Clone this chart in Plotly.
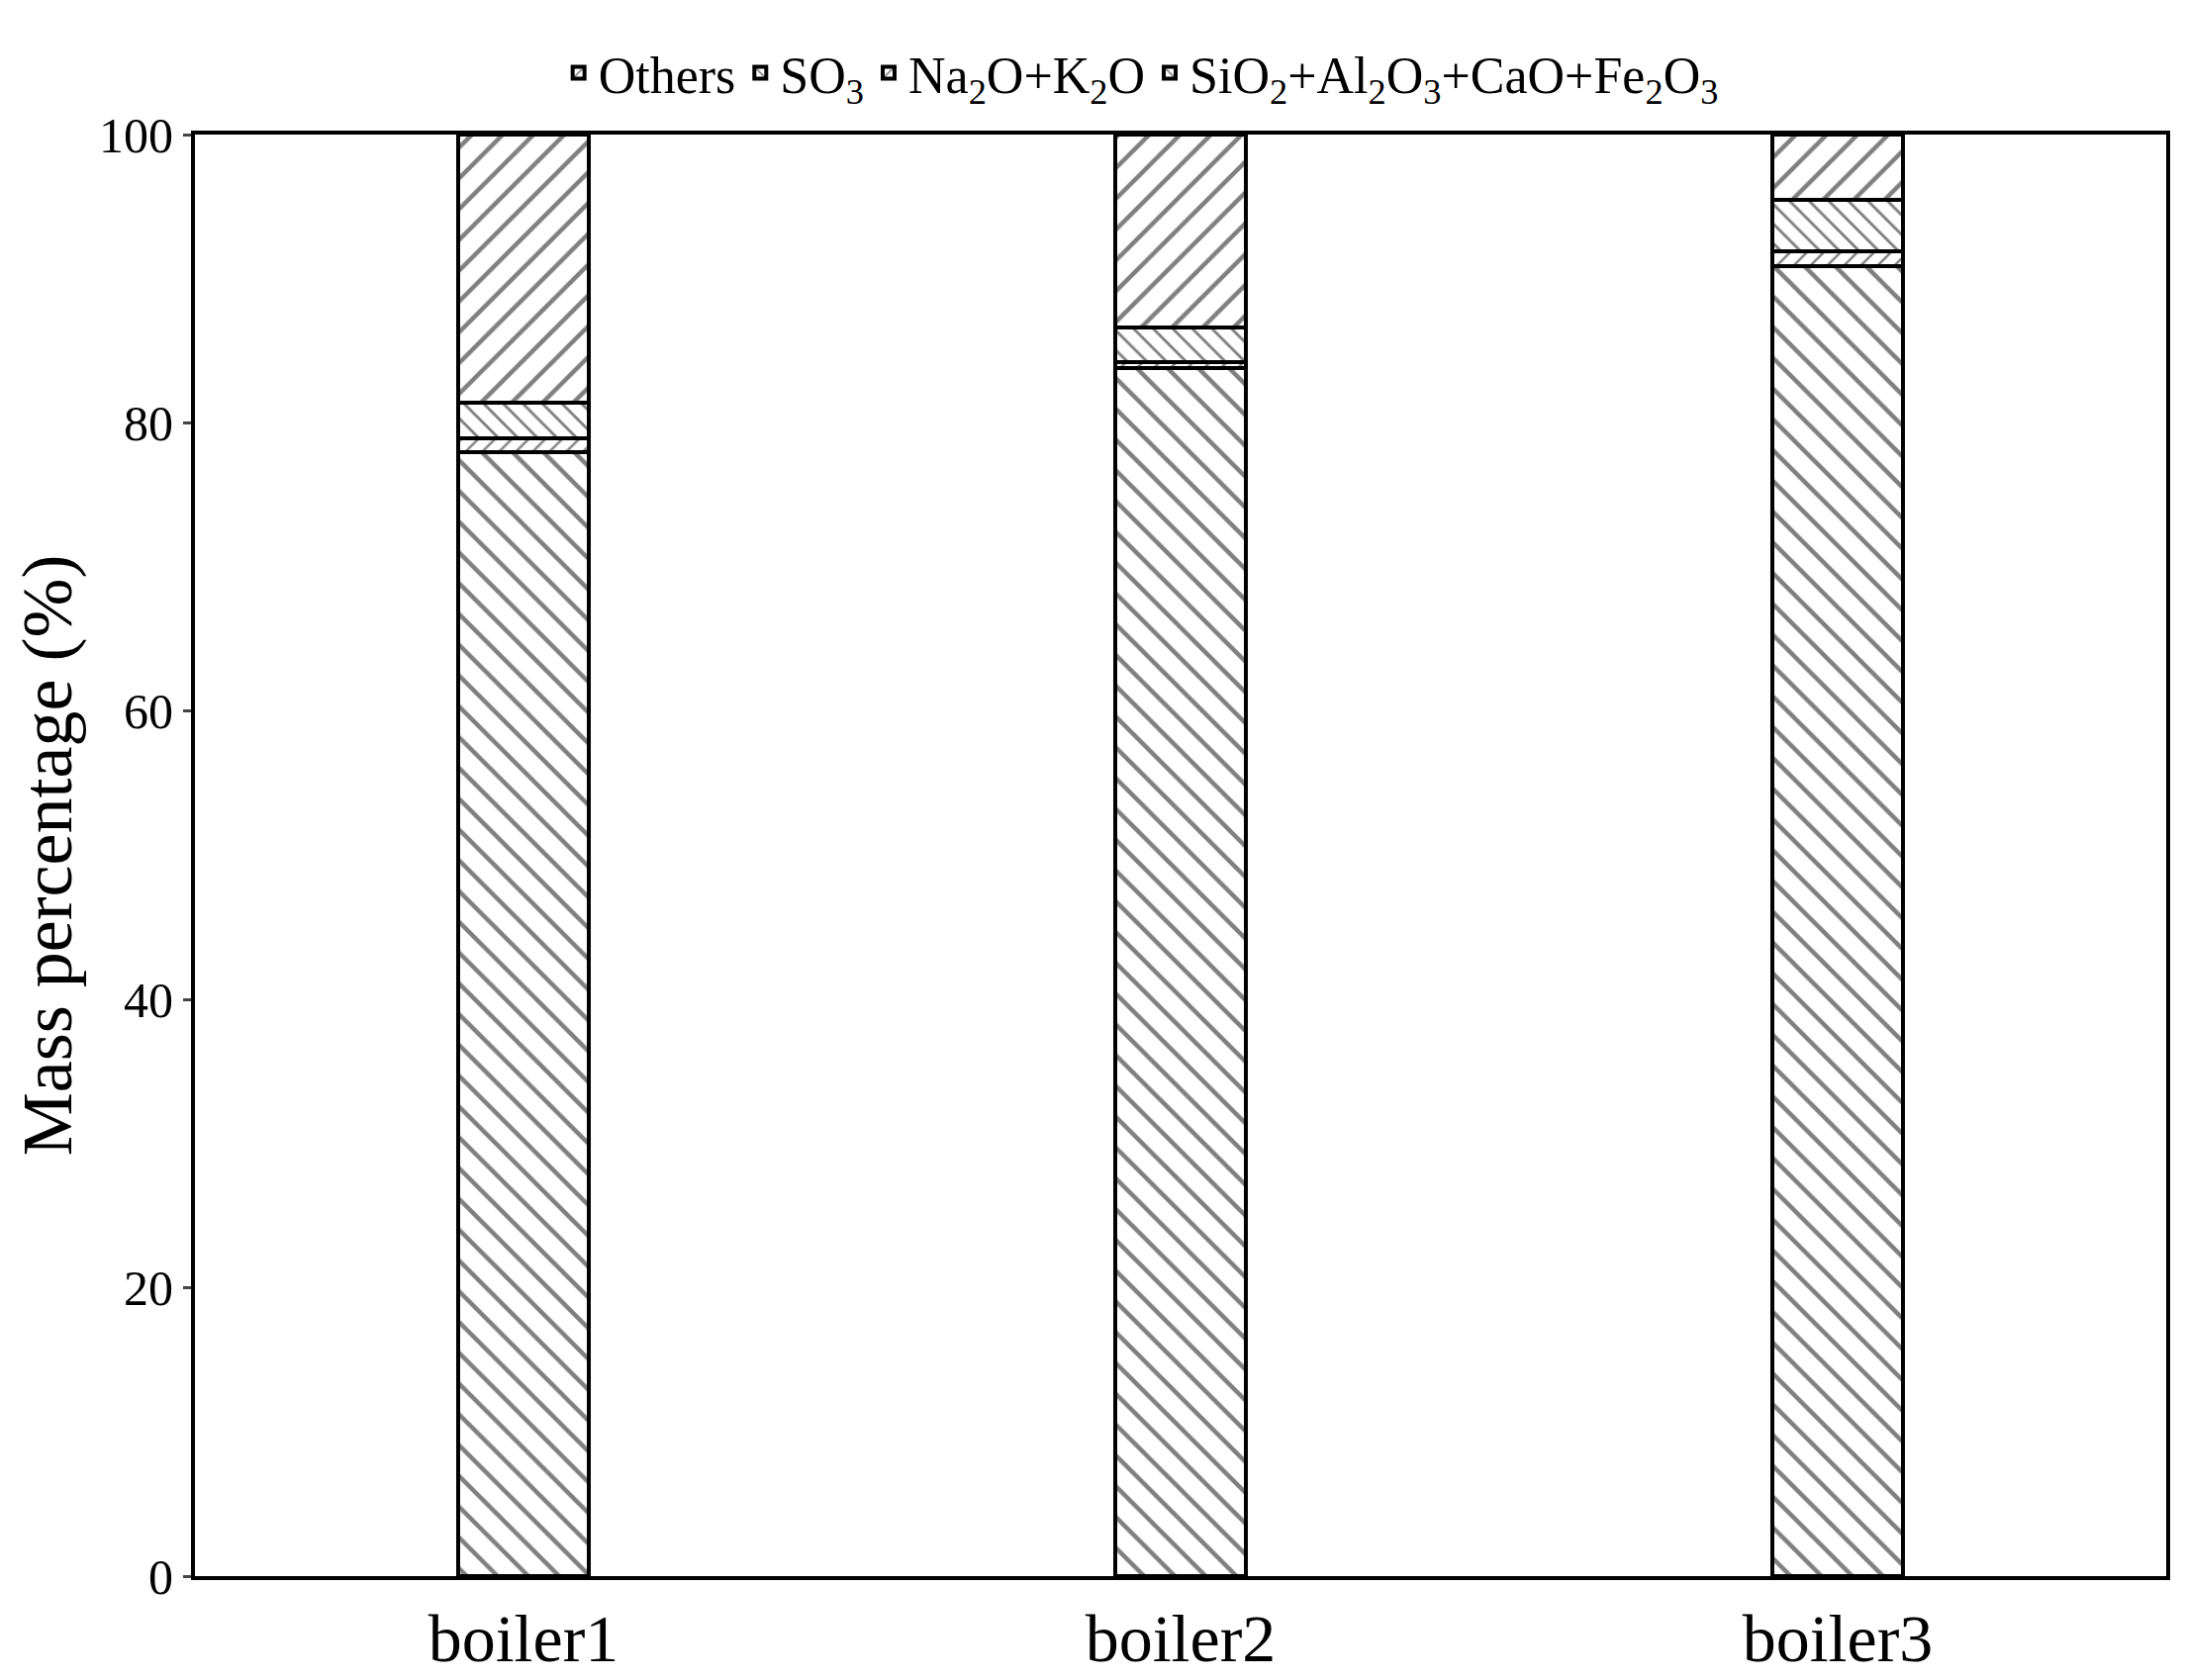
import plotly.graph_objects as go

categories = ["boiler1", "boiler2", "boiler3"]
si_al_ca_fe = [78.0, 83.8, 90.9]
na_k = [0.9, 0.4, 1.0]
so3 = [2.5, 2.4, 3.6]
others = [18.6, 13.4, 4.5]

series = [
    ("SiO<sub>2</sub>+Al<sub>2</sub>O<sub>3</sub>+CaO+Fe<sub>2</sub>O<sub>3</sub>", si_al_ca_fe, "\\", 22),
    ("Na<sub>2</sub>O+K<sub>2</sub>O", na_k, "/", 12),
    ("SO<sub>3</sub>", so3, "\\", 14),
    ("Others", others, "/", 22),
]

fig = go.Figure()
for name, vals, shape, size in series:
    fig.add_trace(go.Bar(
        x=categories, y=vals, name=name, width=0.2,
        marker=dict(color="white", line=dict(color="black", width=4),
                    pattern=dict(shape=shape, size=size, solidity=0.2, fgcolor="black", bgcolor="white")),
    ))

font = "Liberation Serif"
fig.update_layout(
    barmode="stack", width=2208, height=1698, plot_bgcolor="white", paper_bgcolor="white",
    margin=dict(l=189, r=27, t=128, b=83),
    font=dict(family=font, color="black"),
    legend=dict(orientation="h", traceorder="reversed", x=0.48, xanchor="center", y=1.015, yanchor="bottom",
                font=dict(size=52, family=font), bgcolor="rgba(0,0,0,0)"),
    bargap=0.8,
)
fig.update_xaxes(showline=True, linewidth=4, linecolor="black", mirror=True, ticks="",
                 tickfont=dict(size=68, family=font))
fig.update_yaxes(range=[0, 100], dtick=20, showline=True, linewidth=4, linecolor="black", mirror=True,
                 ticks="outside", ticklen=8, tickwidth=3, showgrid=False, zeroline=False,
                 tickfont=dict(size=50, family=font),
                 title=dict(text="Mass percentage (%)", font=dict(size=72, family=font), standoff=20))
fig.write_html("out.html")
